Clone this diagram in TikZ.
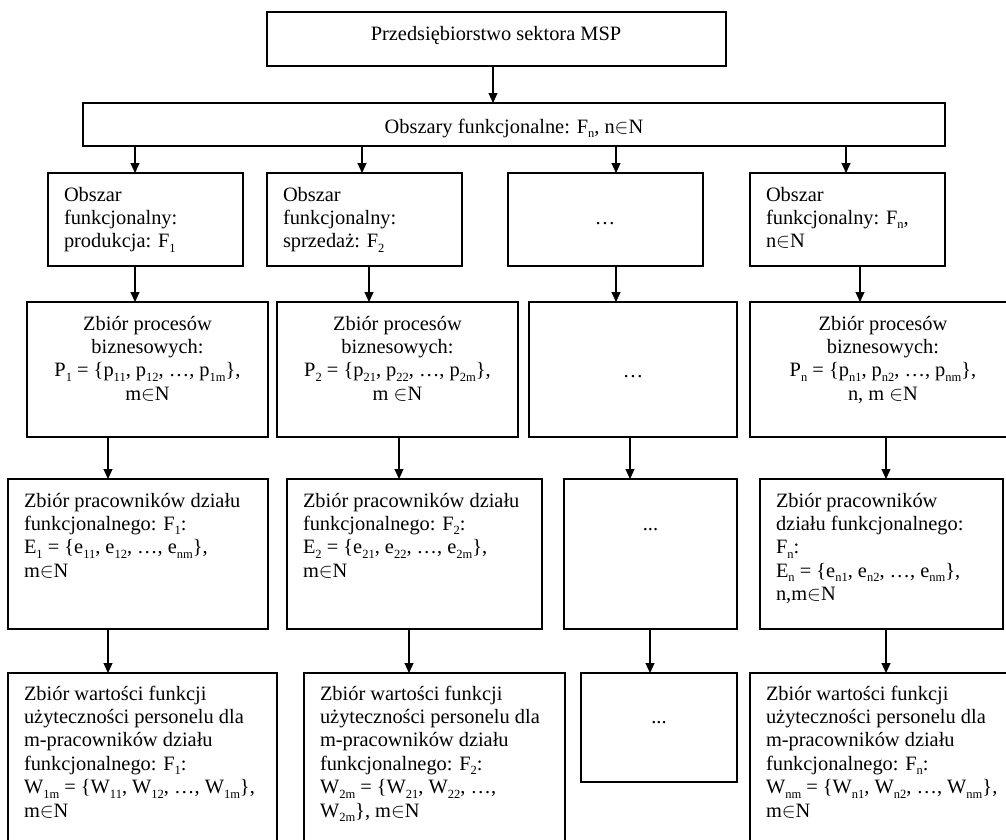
\documentclass[tikz,border=0pt]{standalone}
\usepackage{fontspec}
\setmainfont{Liberation Serif}
\usetikzlibrary{arrows.meta}
\newcommand\sbx[1]{\raisebox{-0.22em}{\fontsize{12.5}{12.5}\selectfont #1}}
\begin{document}
\begin{tikzpicture}[x=1pt,y=-1pt,
  box/.style={draw, line width=1.1pt, inner sep=0pt, outer sep=0pt, anchor=north west},
  arr/.style={line width=1.1pt, -{Triangle[length=10pt,width=9pt]}},
  txt/.style={inner sep=0pt, outer sep=0pt, font=\fontsize{20.4}{23.4}\selectfont}]
\useasboundingbox (0,0) rectangle (1006,839);
\clip (0,0) rectangle (1006,839);
% boxes
\node[box, minimum width=459pt, minimum height=54pt] (top) at (267,12) {};
\node[box, minimum width=862pt, minimum height=43pt] (obs) at (83,103) {};
\node[box, minimum width=195pt, minimum height=93pt] (a1) at (48,173) {};
\node[box, minimum width=195pt, minimum height=93pt] (a2) at (267,173) {};
\node[box, minimum width=195pt, minimum height=93pt] (a3) at (508,173) {};
\node[box, minimum width=195pt, minimum height=93pt] (a4) at (750,173) {};
\node[box, minimum width=241pt, minimum height=135pt] (b1) at (27,302) {};
\node[box, minimum width=241pt, minimum height=135pt] (b2) at (277,302) {};
\node[box, minimum width=208pt, minimum height=135pt] (b3) at (529,302) {};
\node[box, minimum width=266pt, minimum height=135pt] (b4) at (750,302) {};
\node[box, minimum width=260pt, minimum height=150pt] (c1) at (8,479) {};
\node[box, minimum width=255pt, minimum height=150pt] (c2) at (287,479) {};
\node[box, minimum width=173pt, minimum height=150pt] (c3) at (564,479) {};
\node[box, minimum width=243pt, minimum height=150pt] (c4) at (760,479) {};
\node[box, minimum width=269pt, minimum height=200pt] (d1) at (8,673) {};
\node[box, minimum width=261pt, minimum height=200pt] (d2) at (304,673) {};
\node[box, minimum width=156pt, minimum height=109pt] (d3) at (581,673) {};
\node[box, minimum width=280pt, minimum height=200pt] (d4) at (750,673) {};
% texts
\node[txt, anchor=base] (topt) at (496,40) {Przedsiębiorstwo sektora MSP};
\node[txt, anchor=base] (obst) at (514,133) {Obszary funkcjonalne: F\sbx{n}, n$\in$N};
\node[txt, anchor=base west] (a1t) at (64,201) {\parbox[t]{300pt}{\raggedright Obszar\\funkcjonalny:\\produkcja: F\sbx{1}}};
\node[txt, anchor=base west] (a2t) at (283,201) {\parbox[t]{300pt}{\raggedright Obszar\\funkcjonalny:\\sprzedaż: F\sbx{2}}};
\node[txt, anchor=base] (a3t) at (605,224.5) {…};
\node[txt, anchor=base west] (a4t) at (766,201) {\parbox[t]{300pt}{\raggedright Obszar\\funkcjonalny: F\sbx{n},\\n$\in$N}};
\node[txt, anchor=base] (b1t) at (147.5,330) {\parbox[t]{300pt}{\centering Zbiór procesów\\biznesowych:\\P\sbx{1} = \{p\sbx{11}, p\sbx{12}, …, p\sbx{1m}\},\\m$\in$N}};
\node[txt, anchor=base] (b2t) at (397.5,330) {\parbox[t]{300pt}{\centering Zbiór procesów\\biznesowych:\\P\sbx{2} = \{p\sbx{21}, p\sbx{22}, …, p\sbx{2m}\},\\m $\in$N}};
\node[txt, anchor=base] (b3t) at (633,377) {…};
\node[txt, anchor=base] (b4t) at (883,330) {\parbox[t]{300pt}{\centering Zbiór procesów\\biznesowych:\\P\sbx{n} = \{p\sbx{n1}, p\sbx{n2}, …, p\sbx{nm}\},\\n, m $\in$N}};
\node[txt, anchor=base west] (c1t) at (24,507) {\parbox[t]{300pt}{\raggedright Zbiór pracowników działu\\funkcjonalnego: F\sbx{1}:\\E\sbx{1} = \{e\sbx{11}, e\sbx{12}, …, e\sbx{nm}\},\\m$\in$N}};
\node[txt, anchor=base west] (c2t) at (303,507) {\parbox[t]{300pt}{\raggedright Zbiór pracowników działu\\funkcjonalnego: F\sbx{2}:\\E\sbx{2} = \{e\sbx{21}, e\sbx{22}, …, e\sbx{2m}\},\\m$\in$N}};
\node[txt, anchor=base] (c3t) at (650.5,530.5) {...};
\node[txt, anchor=base west] (c4t) at (776,507) {\parbox[t]{300pt}{\raggedright Zbiór pracowników\\działu funkcjonalnego:\\F\sbx{n}:\\E\sbx{n} = \{e\sbx{n1}, e\sbx{n2}, …, e\sbx{nm}\},\\n,m$\in$N}};
\node[txt, anchor=base west] (d1t) at (24,700) {\parbox[t]{300pt}{\raggedright Zbiór wartości funkcji\\użyteczności personelu dla\\m-pracowników działu\\funkcjonalnego: F\sbx{1}:\\W\sbx{1m} = \{W\sbx{11}, W\sbx{12}, …, W\sbx{1m}\},\\m$\in$N}};
\node[txt, anchor=base west] (d2t) at (320,700) {\parbox[t]{300pt}{\raggedright Zbiór wartości funkcji\\użyteczności personelu dla\\m-pracowników działu\\funkcjonalnego: F\sbx{2}:\\W\sbx{2m} = \{W\sbx{21}, W\sbx{22}, …,\\W\sbx{2m}\}, m$\in$N}};
\node[txt, anchor=base] (d3t) at (659,723) {...};
\node[txt, anchor=base west] (d4t) at (766,700) {\parbox[t]{300pt}{\raggedright Zbiór wartości funkcji\\użyteczności personelu dla\\m-pracowników działu\\funkcjonalnego: F\sbx{n}:\\W\sbx{nm} = \{W\sbx{n1}, W\sbx{n2}, …, W\sbx{nm}\},\\m$\in$N}};
% arrows
\foreach \x/\a/\b in {493/top/obs, 135/obs/a1, 362/obs/a2, 616/obs/a3, 846/obs/a4,
  135/a1/b1, 369/a2/b2, 616/a3/b3, 860/a4/b4,
  108/b1/c1, 399/b2/c2, 630/b3/c3, 886/b4/c4,
  108/c1/d1, 409/c2/d2, 650/c3/d3, 886/c4/d4}
  {\coordinate (cx) at (\x,0);
   \draw[arr] (\a.south -| cx) -- (\b.north -| cx);}
\end{tikzpicture}
\end{document}
